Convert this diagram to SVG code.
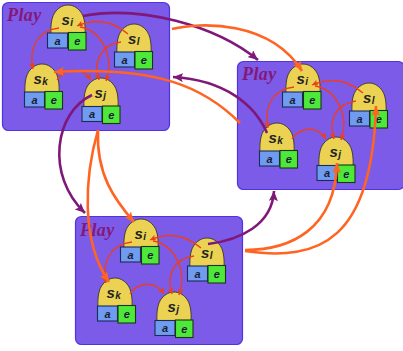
<svg xmlns="http://www.w3.org/2000/svg" width="403" height="351" viewBox="0 0 403 351">
  <style>
    .panel { fill: #7b5be8; stroke: #4f33e0; stroke-width: 1.2; }
    .play { font-family: "Liberation Serif", serif; font-style: italic; font-weight: bold; font-size: 18px; fill: #84187a; letter-spacing: 0.4px; }
    .dome { fill: #ebd252; stroke: #3a3526; stroke-width: 0.9; }
    .boxa { fill: #6f9cf0; stroke: #1d2b5a; stroke-width: 1.1; }
    .boxe { fill: #4ee83a; stroke: #1a3512; stroke-width: 1.1; }
    .lbl { font-family: "Liberation Sans", Arial, sans-serif; font-style: italic; font-weight: bold; font-size: 15px; fill: #222; }
    .sub { font-size: 10px; }
    .bt { font-family: "Liberation Sans", Arial, sans-serif; font-style: italic; font-weight: bold; font-size: 11px; fill: #1a1d33; text-anchor: middle; }
    .inner { fill: none; stroke: #ef3d1c; stroke-width: 1.3; marker-end: url(#redHead); }
    .orange { fill: none; stroke: #ff6422; stroke-width: 2.6; marker-end: url(#orangeHead); }
    .purple { fill: none; stroke: #7f1878; stroke-width: 2.6; marker-end: url(#purpleHead); }
  </style>
  <defs>
    <marker id="redHead" markerUnits="userSpaceOnUse" markerWidth="7" markerHeight="6" refX="6" refY="3" orient="auto">
      <path d="M0,0 L6,3 L0,6 L1.2,3 z" fill="#ef3d1c"/>
    </marker>
    <marker id="orangeHead" markerUnits="userSpaceOnUse" markerWidth="11" markerHeight="9" refX="10" refY="4.5" orient="auto">
      <path d="M0,0 L10,4.5 L0,9 L2,4.5 z" fill="#ff6422"/>
    </marker>
    <marker id="purpleHead" markerUnits="userSpaceOnUse" markerWidth="11" markerHeight="9" refX="10" refY="4.5" orient="auto">
      <path d="M0,0 L10,4.5 L0,9 L2,4.5 z" fill="#7f1878"/>
    </marker>
    <!-- rounded dome of a state node, flat base -->
    <path id="domeShape" d="M0,29 C-0.5,20 0.5,11 5,6 C8.5,2 12.5,0 17,0 C21.5,0 25.5,2 29,6 C33.5,11 34.5,20 34,29 Z"/>
  </defs>

  <!-- Play panel 1 -->
  <g id="play1">
    <rect class="panel" x="2.5" y="2.5" width="167" height="128" rx="6"/>
    <text class="play" x="7" y="21">Play</text>
    <g id="p1-si" transform="translate(51,5)">
      <use href="#domeShape" class="dome"/>
      <text class="lbl" x="10.5" y="20">s<tspan class="sub" dx="0.5" dy="0.5">i</tspan></text>
      <rect class="boxa" x="-3.5" y="28" width="20" height="15"/><text class="bt" x="6.5" y="39.5">a</text>
      <rect class="boxe" x="17.5" y="27.5" width="17.5" height="17.5"/><text class="bt" x="26.2" y="40">e</text>
    </g>
    <g id="p1-sl" transform="translate(117,24)">
      <use href="#domeShape" class="dome"/>
      <text class="lbl" x="11" y="20">s<tspan class="sub" dx="0.5" dy="0.5">l</tspan></text>
      <rect class="boxa" x="-2.5" y="28" width="20" height="15"/><text class="bt" x="7.5" y="39.5">a</text>
      <rect class="boxe" x="18" y="27.5" width="17.5" height="17.5"/><text class="bt" x="26.7" y="40">e</text>
    </g>
    <g id="p1-sk" transform="translate(25,64)">
      <use href="#domeShape" class="dome"/>
      <text class="lbl" x="8.5" y="20">s<tspan class="sub" dx="0.5" dy="0.5">k</tspan></text>
      <rect class="boxa" x="-0.5" y="28" width="20" height="15"/><text class="bt" x="9.5" y="39.5">a</text>
      <rect class="boxe" x="20" y="27.5" width="17.5" height="17.5"/><text class="bt" x="28.7" y="40">e</text>
    </g>
    <g id="p1-sj" transform="translate(84,78)">
      <use href="#domeShape" class="dome"/>
      <text class="lbl" x="10.5" y="20">s<tspan class="sub" dx="0.5" dy="0.5">j</tspan></text>
      <rect class="boxa" x="-2" y="28.5" width="20" height="15"/><text class="bt" x="8" y="40">a</text>
      <rect class="boxe" x="18.5" y="28" width="17.5" height="17.5"/><text class="bt" x="27.2" y="40.5">e</text>
    </g>
    <g id="p1-links">
      <path class="inner" d="M128,34 Q105,14 77,26"/>
      <path class="inner" d="M59,28 C40,30 28,45 33,69"/>
      <path class="inner" d="M80,27 C100,30 115,55 106,81"/>
      <path class="inner" d="M121,42 C100,45 93,62 99,80"/>
      <path class="inner" d="M57,80 C65,68 82,66 91,80"/>
    </g>
  </g>

  <!-- Play panel 2 -->
  <g id="play2" transform="translate(235,59)">
    <rect class="panel" x="2.5" y="2.5" width="167" height="128" rx="6"/>
    <text class="play" x="7" y="21">Play</text>
    <g id="p2-si" transform="translate(51,5)">
      <use href="#domeShape" class="dome"/>
      <text class="lbl" x="10.5" y="20">s<tspan class="sub" dx="0.5" dy="0.5">i</tspan></text>
      <rect class="boxa" x="-3.5" y="28" width="20" height="15"/><text class="bt" x="6.5" y="39.5">a</text>
      <rect class="boxe" x="17.5" y="27.5" width="17.5" height="17.5"/><text class="bt" x="26.2" y="40">e</text>
    </g>
    <g id="p2-sl" transform="translate(117,24)">
      <use href="#domeShape" class="dome"/>
      <text class="lbl" x="11" y="20">s<tspan class="sub" dx="0.5" dy="0.5">l</tspan></text>
      <rect class="boxa" x="-2.5" y="28" width="20" height="15"/><text class="bt" x="7.5" y="39.5">a</text>
      <rect class="boxe" x="18" y="27.5" width="17.5" height="17.5"/><text class="bt" x="26.7" y="40">e</text>
    </g>
    <g id="p2-sk" transform="translate(25,64)">
      <use href="#domeShape" class="dome"/>
      <text class="lbl" x="8.5" y="20">s<tspan class="sub" dx="0.5" dy="0.5">k</tspan></text>
      <rect class="boxa" x="-0.5" y="28" width="20" height="15"/><text class="bt" x="9.5" y="39.5">a</text>
      <rect class="boxe" x="20" y="27.5" width="17.5" height="17.5"/><text class="bt" x="28.7" y="40">e</text>
    </g>
    <g id="p2-sj" transform="translate(84,78)">
      <use href="#domeShape" class="dome"/>
      <text class="lbl" x="10.5" y="20">s<tspan class="sub" dx="0.5" dy="0.5">j</tspan></text>
      <rect class="boxa" x="-2" y="28.5" width="20" height="15"/><text class="bt" x="8" y="40">a</text>
      <rect class="boxe" x="18.5" y="28" width="17.5" height="17.5"/><text class="bt" x="27.2" y="40.5">e</text>
    </g>
    <g id="p2-links">
      <path class="inner" d="M128,34 Q105,14 77,26"/>
      <path class="inner" d="M59,28 C40,30 28,45 33,69"/>
      <path class="inner" d="M80,27 C100,30 115,55 106,81"/>
      <path class="inner" d="M121,42 C100,45 93,62 99,80"/>
      <path class="inner" d="M57,80 C65,68 82,66 91,80"/>
    </g>
  </g>

  <!-- Play panel 3 -->
  <g id="play3" transform="translate(73,214)">
    <rect class="panel" x="2.5" y="2.5" width="167" height="128" rx="6"/>
    <text class="play" x="7" y="22">Play</text>
    <g id="p3-si" transform="translate(51,5)">
      <use href="#domeShape" class="dome"/>
      <text class="lbl" x="10.5" y="20">s<tspan class="sub" dx="0.5" dy="0.5">i</tspan></text>
      <rect class="boxa" x="-3.5" y="28" width="20" height="15"/><text class="bt" x="6.5" y="39.5">a</text>
      <rect class="boxe" x="17.5" y="27.5" width="17.5" height="17.5"/><text class="bt" x="26.2" y="40">e</text>
    </g>
    <g id="p3-sl" transform="translate(117,24)">
      <use href="#domeShape" class="dome"/>
      <text class="lbl" x="11" y="20">s<tspan class="sub" dx="0.5" dy="0.5">l</tspan></text>
      <rect class="boxa" x="-2.5" y="28" width="20" height="15"/><text class="bt" x="7.5" y="39.5">a</text>
      <rect class="boxe" x="18" y="27.5" width="17.5" height="17.5"/><text class="bt" x="26.7" y="40">e</text>
    </g>
    <g id="p3-sk" transform="translate(25,64)">
      <use href="#domeShape" class="dome"/>
      <text class="lbl" x="8.5" y="20">s<tspan class="sub" dx="0.5" dy="0.5">k</tspan></text>
      <rect class="boxa" x="-0.5" y="28" width="20" height="15"/><text class="bt" x="9.5" y="39.5">a</text>
      <rect class="boxe" x="20" y="27.5" width="17.5" height="17.5"/><text class="bt" x="28.7" y="40">e</text>
    </g>
    <g id="p3-sj" transform="translate(84,78)">
      <use href="#domeShape" class="dome"/>
      <text class="lbl" x="10.5" y="20">s<tspan class="sub" dx="0.5" dy="0.5">j</tspan></text>
      <rect class="boxa" x="-2" y="28.5" width="20" height="15"/><text class="bt" x="8" y="40">a</text>
      <rect class="boxe" x="18.5" y="28" width="17.5" height="17.5"/><text class="bt" x="27.2" y="40.5">e</text>
    </g>
    <g id="p3-links">
      <path class="inner" d="M128,34 Q105,14 77,26"/>
      <path class="inner" d="M59,28 C40,30 28,45 33,69"/>
      <path class="inner" d="M80,27 C100,30 115,55 106,81"/>
      <path class="inner" d="M121,42 C100,45 93,62 99,80"/>
      <path class="inner" d="M57,80 C65,68 82,66 91,80"/>
    </g>
  </g>

  <!-- connectors between plays -->
  <g id="connectors">
    <path class="purple" d="M83,16 C140,5 215,25 258,60"/>
    <path class="orange" d="M172,29 C200,22 270,20 302,71"/>
    <path class="purple" d="M267,133 C255,105 225,80 173,77"/>
    <path class="orange" d="M240,123 C205,88 160,66 54,72"/>
    <path class="purple" d="M92,95 C55,112 45,175 85,213"/>
    <path class="orange" d="M98,130 C96,175 115,200 134,222"/>
    <path class="orange" d="M98,130 C85,175 80,240 109,282"/>
    <path class="purple" d="M208,244 C240,240 272,225 274,191"/>
    <path class="orange" d="M245,250 C290,250 335,230 337,163"/>
    <path class="orange" d="M245,251 C320,262 372,240 376,106"/>
  </g>
</svg>
